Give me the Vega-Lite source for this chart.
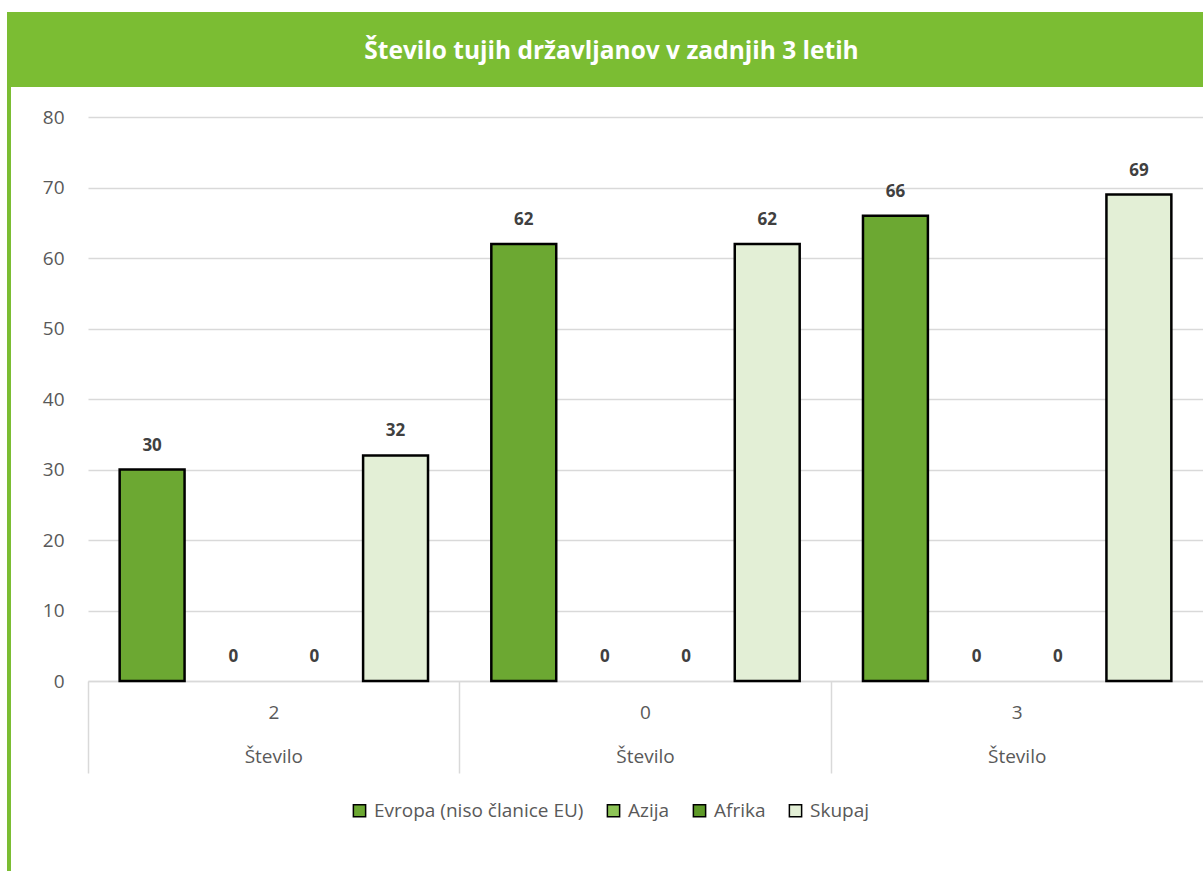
{
  "$schema": "https://vega.github.io/schema/vega-lite/v6.json",
  "padding": {"left": 7, "top": 12, "right": 0, "bottom": 0},
  "background": "white",
  "config": {"font": "Open Sans", "view": {"stroke": null}},
  "spacing": 0,
  "hconcat": [
    {
      "width": 4,
      "height": 859,
      "view": {"fill": "#7BBD33", "stroke": null},
      "data": {"values": [{"t": ""}]},
      "mark": {"type": "text"},
      "encoding": {"text": {"field": "t"}}
    },
    {
      "spacing": 21,
      "vconcat": [
        {
          "width": 1115,
          "height": 75,
          "view": {"fill": "#7BBD33", "stroke": null},
          "data": {"values": [{"t": "Število tujih državljanov v zadnjih 3 letih", "r": "a"}]},
          "mark": {"type": "text", "font": "Open Sans", "fontSize": 24.5, "fontWeight": "bold", "color": "white", "baseline": "middle", "dy": 2, "dx": -34},
          "encoding": {
            "text": {"field": "t"},
            "y": {
              "field": "r", "type": "nominal",
              "axis": {
                "title": null, "labels": false, "ticks": false, "grid": false,
                "domain": true, "domainWidth": 154, "domainColor": "#7BBD33",
                "translate": 0, "minExtent": 77, "maxExtent": 77
              }
            }
          }
        },
        {
          "width": 1115,
          "height": 564,
          "data": {"values": [
            {"g": "2", "c": "Evropa (niso članice EU)", "v": 30},
            {"g": "2", "c": "Azija", "v": 0},
            {"g": "2", "c": "Afrika", "v": 0},
            {"g": "2", "c": "Skupaj", "v": 32},
            {"g": "0", "c": "Evropa (niso članice EU)", "v": 62},
            {"g": "0", "c": "Azija", "v": 0},
            {"g": "0", "c": "Afrika", "v": 0},
            {"g": "0", "c": "Skupaj", "v": 62},
            {"g": "3", "c": "Evropa (niso članice EU)", "v": 66},
            {"g": "3", "c": "Azija", "v": 0},
            {"g": "3", "c": "Afrika", "v": 0},
            {"g": "3", "c": "Skupaj", "v": 69}
          ]},
          "encoding": {
            "x": {
              "field": "g", "type": "nominal", "sort": ["2", "0", "3"],
              "scale": {"paddingInner": 0, "paddingOuter": 0},
              "axis": {
                "title": null, "labelAngle": 0, "bandPosition": 0,
                "domainColor": "#D9D9D9", "domainWidth": 1.5,
                "tickColor": "#D9D9D9", "tickWidth": 1.5, "tickSize": 92,
                "labelExpr": "[datum.label, 'Število']",
                "labelLineHeight": 44, "labelPadding": -70,
                "labelFontSize": 19, "labelColor": "#595959", "labelFont": "Open Sans"
              }
            },
            "xOffset": {
              "field": "c", "type": "nominal",
              "sort": ["Evropa (niso članice EU)", "Azija", "Afrika", "Skupaj"],
              "scale": {"paddingInner": 0.2, "paddingOuter": 0.39}
            },
            "y": {
              "field": "v", "type": "quantitative",
              "scale": {"domain": [0, 80]},
              "axis": {
                "title": null, "values": [0, 10, 20, 30, 40, 50, 60, 70, 80],
                "domain": false, "ticks": false,
                "gridColor": "#D9D9D9", "gridWidth": 1.5,
                "labelPadding": 24, "labelFontSize": 19, "labelColor": "#595959",
                "labelFont": "Open Sans", "minExtent": 77, "maxExtent": 77
              }
            }
          },
          "layer": [
            {
              "mark": {"type": "bar", "stroke": "black"},
              "encoding": {
                "fill": {
                  "field": "c", "type": "nominal",
                  "scale": {
                    "domain": ["Evropa (niso članice EU)", "Azija", "Afrika", "Skupaj"],
                    "range": ["#6CA832", "#8DC456", "#5E9A28", "#E3EFD6"]
                  },
                  "legend": {
                    "title": null, "orient": "none", "direction": "horizontal",
                    "legendX": 343, "legendY": 789, "padding": 0,
                    "symbolType": "square", "symbolSize": 150,
                    "symbolStrokeColor": "black", "symbolStrokeWidth": 1.5,
                    "labelFontSize": 19, "labelColor": "#595959", "labelFont": "Open Sans",
                    "labelOffset": 5, "columnPadding": 20, "labelLimit": 400
                  }
                },
                "strokeWidth": {"condition": {"test": "datum.v > 0", "value": 2.5}, "value": 0}
              }
            },
            {
              "mark": {"type": "text", "dy": -24, "fontSize": 17, "fontWeight": "bold", "color": "#404040", "font": "Open Sans"},
              "encoding": {"text": {"field": "v", "type": "quantitative"}}
            }
          ]
        }
      ]
    }
  ]
}
